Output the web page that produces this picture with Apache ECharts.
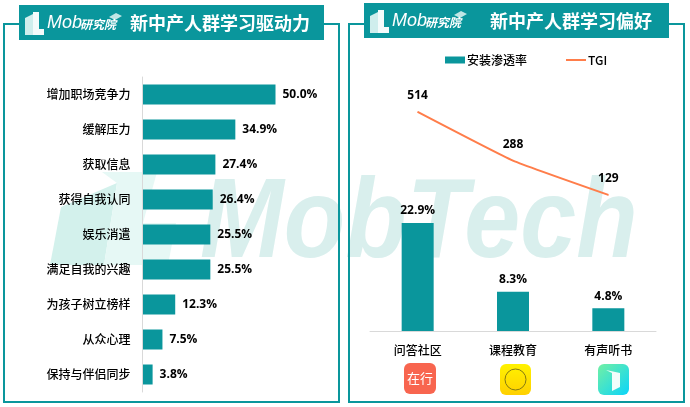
<![CDATA[<!DOCTYPE html>
<html><head><meta charset="utf-8">
<style>html,body{margin:0;padding:0;background:#fff}#c{width:690px;height:407px}</style>
<script src="https://cdn.jsdelivr.net/npm/echarts@6/dist/echarts.min.js"></script>
</head><body><div id="c"></div>
<script>
const driverCategories=['增加职场竞争力','缓解压力','获取信息','获得自我认同','娱乐消遣','满足自我的兴趣','为孩子树立榜样','从众心理','保持与伴侣同步'];
const driverValues=[50.0,34.9,27.4,26.4,25.5,25.5,12.3,7.5,3.8];
const appCategories=['问答社区','课程教育','有声听书'];
const installRate=[22.9,8.3,4.8];
const tgi=[514,288,129];
const titleLeft='新中产人群学习驱动力';
const titleRight='新中产人群学习偏好';

const TEAL='#0a969c', ORANGE='#ff7d4a';
const CJK='"Noto Sans CJK SC","Microsoft YaHei",sans-serif';
const NUM='"Open Sans","Noto Sans CJK SC",sans-serif';
const g=[];
function poly(pts,fill,z){g.push({type:'polygon',shape:{points:pts},style:{fill},z:z===undefined?1:z});}
function txt(x,y,t,font,fill,align,z){g.push({type:'text',x,y,style:{text:t,font,fill,align:align||'left',verticalAlign:'middle'},z:z||5});}
// watermark: logo mark and wordmark behind the plots
poly([[61,207],[117,183],[104,265],[50,265]],'#d3f1ec',1);
poly([[102,172],[157,172],[143,223],[176,223],[168,265],[104,265],[117,183]],'#e6f8f5',1);
g.push({type:'text',x:200,y:226,scaleX:.89,style:{text:'MobTech',font:'italic bold 113px "Liberation Sans"',fill:'#d9efed',verticalAlign:'middle'},z:1});
// frames
[[4,24,335,378],[349,24,335,378]].forEach(r=>g.push({type:'rect',shape:{x:r[0],y:r[1],width:r[2],height:r[3]},style:{fill:'none',stroke:TEAL,lineWidth:2},z:2}));
function header(x,y,title,tx){
  g.push({type:'rect',shape:{x,y,width:305,height:35},style:{fill:TEAL},z:3});
  poly([[x+6,y+30],[x+6,y+13],[x+14,y+9],[x+14,y+30]],'#cfeeed',5);
  poly([[x+14,y+30],[x+14,y+7],[x+20,y+7],[x+20,y+24],[x+25,y+24],[x+25,y+30]],'#f4fbfb',5);
  poly([[x+90,y+12],[x+97,y+8],[x+103,y+11],[x+96,y+15]],'#bfe6e5',5);
  txt(x+28,y+18,'Mob','italic 18px "Liberation Sans"','#fff');
  txt(x+61,y+19,'研究院','italic bold 12px '+CJK,'#fff');
  txt(tx,y+18,title,'bold 18px '+CJK,'#fff');
}
header(19,5,titleLeft,130);
header(364,3,titleRight,490);
// app icons
g.push({type:'rect',shape:{x:404,y:363,width:32,height:31,r:6},style:{fill:'#f8654f'},z:5});
txt(420,378.5,'在行','13px '+CJK,'#fff','center',6);
g.push({type:'rect',shape:{x:500,y:364,width:31,height:31,r:6},style:{fill:{type:'linear',x:0,y:0,x2:0,y2:1,colorStops:[{offset:0,color:'#fff200'},{offset:1,color:'#ffd000'}]}},z:5});
g.push({type:'circle',shape:{cx:515.5,cy:379.5,r:10.5},style:{fill:'none',stroke:'#857a12',lineWidth:1},z:6});
g.push({type:'rect',shape:{x:598,y:364,width:31,height:31,r:6},style:{fill:{type:'linear',x:0,y:0,x2:1,y2:1,colorStops:[{offset:0,color:'#72f0a4'},{offset:1,color:'#0ad4fa'}]}},z:5});
poly([[606,370],[620,373],[620,387],[612,391],[612,373]],'#f2fdfb',6);

const chart=echarts.init(document.getElementById('c'),null,{renderer:'canvas'});
chart.setOption({
  animation:false,
  backgroundColor:'#fff',
  graphic:{elements:g},
  legend:{left:445,top:54,padding:0,itemGap:38,itemWidth:20,itemHeight:7,
    textStyle:{fontFamily:CJK,fontWeight:500,fontSize:12,color:'#000',padding:[0,0,0,-3]},
    data:[{name:'安装渗透率',icon:'rect'},{name:'TGI',itemStyle:{color:'rgba(0,0,0,0)',opacity:0}}]},
  grid:[
    {left:142.5,top:77,width:266,height:315},
    {left:370,top:61,width:286,height:270}
  ],
  xAxis:[
    {gridIndex:0,type:'value',min:0,max:100,show:false},
    {gridIndex:1,type:'category',data:appCategories,z:3,axisLine:{lineStyle:{color:'#d9d9d9',width:1}},axisTick:{show:false},
     axisLabel:{color:'#000',fontFamily:CJK,fontWeight:500,fontSize:12,margin:13}}
  ],
  yAxis:[
    {gridIndex:0,type:'category',inverse:true,data:driverCategories,z:3,axisLine:{lineStyle:{color:'#d9d9d9',width:1}},axisTick:{show:false},
     axisLabel:{color:'#000',fontFamily:CJK,fontWeight:500,fontSize:12,margin:12}},
    {gridIndex:1,type:'value',min:0,max:57.2,show:false,splitLine:{show:false}},
    {gridIndex:1,type:'value',min:-502,max:750,show:false,splitLine:{show:false}}
  ],
  series:[
    {type:'bar',xAxisIndex:0,yAxisIndex:0,data:driverValues,barWidth:20,itemStyle:{color:TEAL},
     label:{show:true,position:'right',distance:7,color:'#000',fontFamily:NUM,fontWeight:'bold',fontSize:12,formatter:p=>p.value.toFixed(1)+'%'}},
    {name:'安装渗透率',type:'bar',xAxisIndex:1,yAxisIndex:1,data:installRate,barWidth:32,itemStyle:{color:TEAL},
     label:{show:true,position:'top',distance:6,color:'#000',fontFamily:NUM,fontWeight:'bold',fontSize:12,formatter:p=>p.value.toFixed(1)+'%'}},
    {name:'TGI',type:'line',xAxisIndex:1,yAxisIndex:2,smooth:.12,symbol:'circle',symbolSize:1,showSymbol:true,data:tgi,
     lineStyle:{color:ORANGE,width:2},itemStyle:{color:ORANGE},
     label:{show:true,position:'top',distance:10,color:'#000',fontFamily:NUM,fontWeight:'bold',fontSize:12}}
  ]
});
</script></body></html>]]>
